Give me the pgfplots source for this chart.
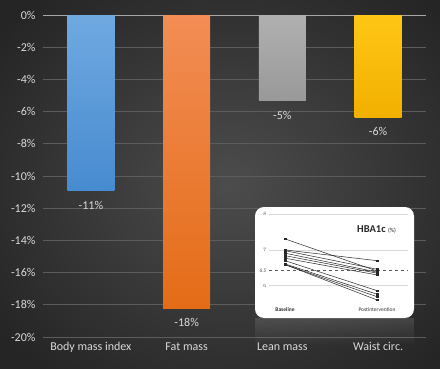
\documentclass[border=0pt]{standalone}
\usepackage{pgfplots}
\pgfplotsset{compat=1.18}
\usepackage{fontspec}
\setmainfont{Carlito}
\usetikzlibrary{fadings}
\definecolor{bgin}{HTML}{4C4C4C}
\definecolor{bgout}{HTML}{252525}
\definecolor{lbl}{HTML}{D9D9D9}
\definecolor{gridc}{HTML}{5C5C5C}
\definecolor{zeroc}{HTML}{A6A6A6}
\definecolor{blueT}{HTML}{70A9E0}
\definecolor{blueB}{HTML}{478BD0}
\definecolor{orT}{HTML}{F28D55}
\definecolor{orB}{HTML}{E46C17}
\definecolor{grT}{HTML}{B0B0B0}
\definecolor{grB}{HTML}{999999}
\definecolor{yeT}{HTML}{FFC616}
\definecolor{yeB}{HTML}{F2B000}
\definecolor{insgrid}{HTML}{D9D9D9}
\definecolor{instext}{HTML}{595959}
\pgfplotsset{hline/.style={black!85, line width=0.5pt, mark=square*, mark size=0.8pt, mark options={solid, fill=black!85}}}
\begin{document}
\begin{tikzpicture}[x=1pt,y=1pt]
\useasboundingbox (0,0) rectangle (440,368);
\shade[inner color=bgin, outer color=bgout] (-60,-60) rectangle (520,430);
\begin{axis}[
  at={(43pt,31pt)}, anchor=south west, scale only axis,
  width=383pt, height=322pt,
  xmin=-0.5, xmax=3.5, ymin=-20, ymax=0,
  axis line style={draw=none},
  major tick length=0pt,
  ymajorgrids, grid style={color=gridc, line width=0.8pt},
  ytick={-20,-18,...,0},
  yticklabels={-20\%,-18\%,-16\%,-14\%,-12\%,-10\%,-8\%,-6\%,-4\%,-2\%,0\%},
  extra y ticks={0}, extra y tick labels={},
  extra y tick style={grid style={color=zeroc, line width=1pt}},
  xtick={0,1,2,3},
  xticklabels={Body mass index, Fat mass, Lean mass, Waist circ.},
  ticklabel style={font=\fontsize{12}{14}\selectfont, text=lbl},
  yticklabel style={xshift=-4pt},
  xticklabel style={yshift=-2pt},
  clip=false,
  nodes near coords,
  point meta=explicit symbolic,
  nodes near coords style={font=\fontsize{12}{14}\selectfont, text=lbl, anchor=north, yshift=-7pt},
]
\addplot[ybar, bar width=47pt, bar shift=0pt, draw=none, top color=blueT, bottom color=blueB] coordinates {(0,-10.9) [-11\%]};
\addplot[ybar, bar width=47pt, bar shift=0pt, draw=none, top color=orT, bottom color=orB] coordinates {(1,-18.2) [-18\%]};
\addplot[ybar, bar width=47pt, bar shift=0pt, draw=none, top color=grT, bottom color=grB] coordinates {(2,-5.3) [-5\%]};
\addplot[ybar, bar width=47pt, bar shift=0pt, draw=none, top color=yeT, bottom color=yeB] coordinates {(3,-6.35) [-6\%]};
\end{axis}
% inset card
\fill[white, opacity=0.12, path fading=south] (255,22) rectangle (414,50);
\fill[white, rounded corners=9pt] (255,50) rectangle (414,161);
\begin{axis}[
  at={(269pt,64.5pt)}, anchor=south west, scale only axis,
  width=139pt, height=89.25pt,
  xmin=-0.174, xmax=1.337, ymin=5.5, ymax=8,
  axis line style={draw=none},
  major tick length=0pt,
  ytick={6,7,8},
  ymajorgrids, grid style={color=insgrid, line width=0.9pt},
  extra y ticks={6.42}, extra y tick labels={6.5},
  extra y tick style={grid style={color=instext, dashed, line width=0.6pt}},
  xtick={0,1},
  xticklabels={\textbf{Baseline}, Postintervention},
  ticklabel style={font=\fontsize{5.5}{6}\selectfont, text=instext},
  xticklabel style={yshift=-1pt, text=black!80},
  yticklabel style={xshift=1pt},
  clip=false,
]
\addplot[hline] coordinates {(0,7.31) (1,6.41)};
\addplot[hline] coordinates {(0,7.00) (1,6.70)};
\addplot[hline] coordinates {(0,6.98) (1,6.46)};
\addplot[hline] coordinates {(0,6.91) (1,6.38)};
\addplot[hline] coordinates {(0,6.84) (1,6.35)};
\addplot[hline] coordinates {(0,6.77) (1,6.30)};
\addplot[hline] coordinates {(0,6.70) (1,5.86)};
\addplot[hline] coordinates {(0,6.61) (1,5.76)};
\addplot[hline] coordinates {(0,6.59) (1,5.69)};
\addplot[hline] coordinates {(0,6.59) (1,5.60)};
\end{axis}
\node[anchor=west, inner sep=0pt, text=black!85] at (357,138.5) {\fontsize{10.5}{12}\selectfont\textbf{HBA1c} \fontsize{6}{7}\selectfont(\%)};
\end{tikzpicture}
\end{document}
